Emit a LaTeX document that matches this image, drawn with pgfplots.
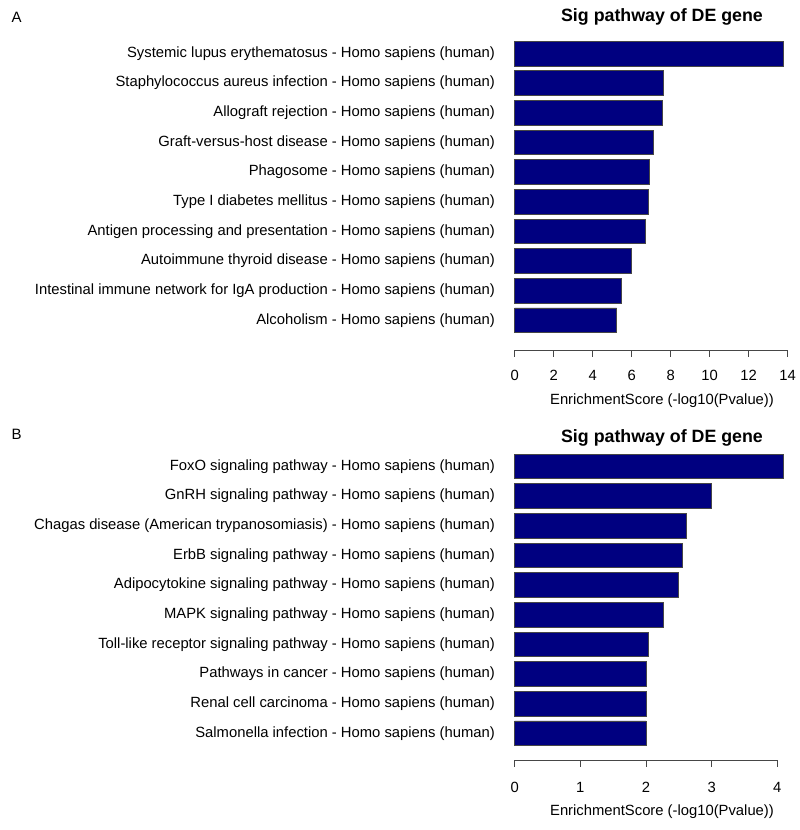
\documentclass[border=0pt]{standalone}
\usepackage{pgfplots}
\pgfplotsset{compat=1.18}
\usepackage{fontspec}
\setmainfont{Liberation Sans}
\definecolor{barblue}{RGB}{0,0,128}
\definecolor{axgray}{RGB}{70,70,70}
\pgfplotsset{
  sigbar/.style={
    scale only axis,
    anchor=south west,
    clip=false,
    xbar, bar width=24.7bp, bar shift=0pt,
    axis x line*=bottom, axis y line*=left,
    y axis line style={draw=none},
    x axis line style={-, draw=axgray, line width=0.8bp},
    ytick={1,...,10},
    ytick style={draw=none},
    xtick style={draw=axgray, line width=0.8bp},
    tick align=outside,
    major tick length=6.7bp,
    /pgf/number format/assume math mode=true,
    ticklabel style={font=\fontsize{14.8bp}{16bp}\selectfont},
    yticklabel style={anchor=east, inner sep=0pt, xshift=-13bp},
    xticklabel style={anchor=base, inner sep=0pt, yshift=-24bp},
  }
}
\begin{document}
\begin{tikzpicture}
\path[use as bounding box] (0,0) rectangle (800bp,830bp);
% Panel A
\begin{axis}[sigbar,
  at={(514.7bp,480bp)}, width=273bp, height=326.15bp,
  xmin=0, xmax=14, ymin=0, ymax=11,
  xtick={0,2,...,14},
  yticklabels={
    Alcoholism - Homo sapiens (human),
    Intestinal immune network for IgA production - Homo sapiens (human),
    Autoimmune thyroid disease - Homo sapiens (human),
    Antigen processing and presentation - Homo sapiens (human),
    Type I diabetes mellitus - Homo sapiens (human),
    Phagosome - Homo sapiens (human),
    Graft-versus-host disease - Homo sapiens (human),
    Allograft rejection - Homo sapiens (human),
    Staphylococcus aureus infection - Homo sapiens (human),
    Systemic lupus erythematosus - Homo sapiens (human)},
]
\addplot[fill=barblue, draw=axgray, line width=0.6bp] coordinates {
  (5.23,1) (5.49,2) (6.00,3) (6.70,4) (6.87,5)
  (6.90,6) (7.09,7) (7.59,8) (7.62,9) (13.77,10)};
\end{axis}
% Panel B
\begin{axis}[sigbar,
  at={(514.7bp,70bp)}, width=262.6bp, height=323.2bp,
  xmin=0, xmax=4, ymin=0.1, ymax=11,
  xtick={0,1,...,4},
  xticklabel style={yshift=-2bp},
  yticklabels={
    Salmonella infection - Homo sapiens (human),
    Renal cell carcinoma - Homo sapiens (human),
    Pathways in cancer - Homo sapiens (human),
    Toll-like receptor signaling pathway - Homo sapiens (human),
    MAPK signaling pathway - Homo sapiens (human),
    Adipocytokine signaling pathway - Homo sapiens (human),
    ErbB signaling pathway - Homo sapiens (human),
    Chagas disease (American trypanosomiasis) - Homo sapiens (human),
    GnRH signaling pathway - Homo sapiens (human),
    FoxO signaling pathway - Homo sapiens (human)},
]
\addplot[fill=barblue, draw=axgray, line width=0.6bp] coordinates {
  (2.00,1) (2.00,2) (2.00,3) (2.03,4) (2.27,5)
  (2.49,6) (2.55,7) (2.61,8) (3.00,9) (4.09,10)};
\end{axis}
% titles, labels, panel letters
\node[font=\fontsize{17.8bp}{20bp}\selectfont\bfseries] at (662bp,813bp) {Sig pathway of DE gene};
\node[font=\fontsize{17.8bp}{20bp}\selectfont\bfseries] at (662bp,392bp) {Sig pathway of DE gene};
\node[font=\fontsize{14.8bp}{16bp}\selectfont] at (662bp,429bp) {EnrichmentScore (-log10(Pvalue))};
\node[font=\fontsize{14.8bp}{16bp}\selectfont] at (662bp,18bp) {EnrichmentScore (-log10(Pvalue))};
\node[font=\fontsize{15bp}{17bp}\selectfont] at (16.7bp,813bp) {A};
\node[font=\fontsize{15bp}{17bp}\selectfont] at (16.7bp,396bp) {B};
\end{tikzpicture}
\end{document}
